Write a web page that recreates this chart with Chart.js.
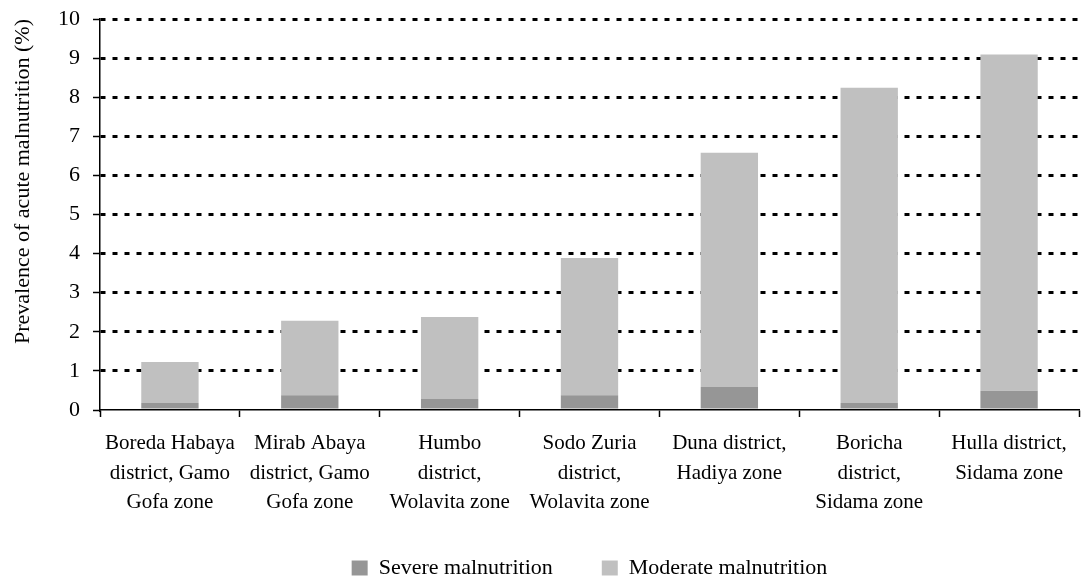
<!DOCTYPE html>
<html>
<head>
    <title>Acute malnutrition by district</title>
    <script src="https://cdn.jsdelivr.net/npm/chart.js"></script>
    <style>
        body { margin: 0; background: #fff; }
        #wrap { width: 1084px; height: 578px; position: relative; }
    </style>
</head>
<body>
    <div id="wrap"><canvas id="malnutritionChart"></canvas></div>

    <script>
        // data
        const districts = [
            ['Boreda Habaya', 'district, Gamo', 'Gofa zone'],
            ['Mirab Abaya', 'district, Gamo', 'Gofa zone'],
            ['Humbo', 'district,', 'Wolayita zone'],
            ['Sodo Zuria', 'district,', 'Wolayita zone'],
            ['Duna district,', 'Hadiya zone'],
            ['Boricha', 'district,', 'Sidama zone'],
            ['Hulla district,', 'Sidama zone']
        ];
        const severe = [0.18, 0.38, 0.28, 0.38, 0.59, 0.18, 0.49];
        const moderate = [1.05, 1.90, 2.10, 3.51, 5.99, 8.06, 8.60];
        const yTicks = [0, 1, 2, 3, 4, 5, 6, 7, 8, 9, 10];

        const serif = "'Liberation Serif', 'Times New Roman', serif";

        const ctx = document.getElementById('malnutritionChart').getContext('2d');
        new Chart(ctx, {
            type: 'bar',
            data: {
                labels: districts,
                datasets: [{
                    label: 'Severe malnutrition',
                    data: severe,
                    backgroundColor: '#969696'
                }, {
                    label: 'Moderate malnutrition',
                    data: moderate,
                    backgroundColor: '#c0c0c0'
                }]
            },
            options: {
                responsive: true,
                maintainAspectRatio: false,
                animation: false,
                layout: { padding: { top: 19, right: 5, left: 0, bottom: 0 } },
                datasets: {
                    bar: { categoryPercentage: 1, barPercentage: 0.41 }
                },
                plugins: {
                    tooltip: { enabled: false },
                    legend: {
                        position: 'bottom',
                        fullSize: false,
                        maxHeight: 70,
                        labels: {
                            color: '#000',
                            font: { family: serif, size: 22 },
                            boxWidth: 16,
                            boxHeight: 15,
                            padding: 49
                        }
                    }
                },
                scales: {
                    x: {
                        stacked: true,
                        afterFit: s => { s.height = 98; },
                        grid: {
                            offset: true,
                            drawOnChartArea: false,
                            drawTicks: true,
                            tickLength: 7,
                            tickColor: '#000',
                            tickWidth: 1.5
                        },
                        border: { display: true, color: '#000', width: 1.5 },
                        ticks: {
                            color: '#000',
                            autoSkip: false,
                            maxRotation: 0,
                            padding: 12,
                            font: { family: serif, size: 21, lineHeight: 1.4 }
                        }
                    },
                    y: {
                        stacked: true,
                        min: 0,
                        max: 10,
                        afterFit: s => {
                            s.width = 100;
                            // label padding is counted into the top gap; keep just half a label
                            s.paddingTop = 13;
                            s.paddingBottom = 13;
                        },
                        afterBuildTicks: s => { s.ticks = yTicks.map(v => ({ value: v })); },
                        grid: {
                            color: c => (c.tick && c.tick.value === 0) ? 'rgba(0,0,0,0)' : '#000',
                            lineWidth: 3,
                            drawTicks: true,
                            tickLength: 7,
                            tickColor: '#000',
                            tickWidth: 1.5,
                            tickBorderDash: []
                        },
                        border: { display: true, color: '#000', width: 1.5, dash: [5, 7] },
                        ticks: {
                            color: '#000',
                            padding: 13,
                            font: { family: serif, size: 22 }
                        },
                        title: {
                            display: true,
                            align: 'end',
                            text: 'Prevalence of acute malnutrition (%)',
                            color: '#000',
                            padding: { top: 10, bottom: 0 },
                            font: { family: serif, size: 22 }
                        }
                    }
                }
            }
        });
    </script>
</body>
</html>
